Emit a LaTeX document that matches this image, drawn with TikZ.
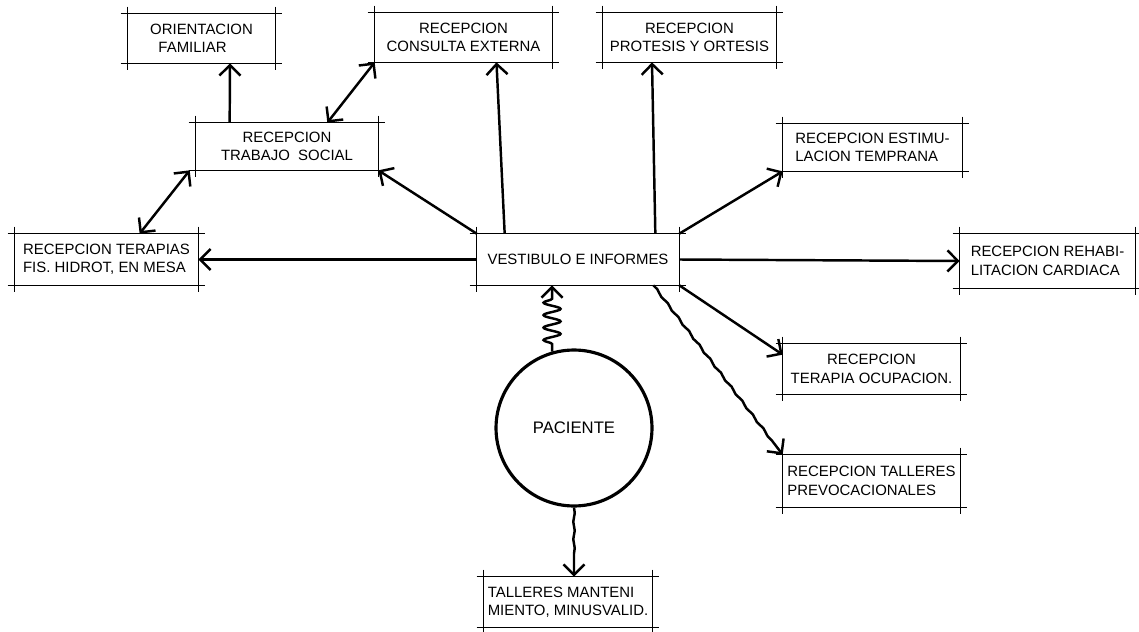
\documentclass[tikz,border=0pt]{standalone}
\usepackage{fontspec}
\setmainfont{Liberation Sans}
\usetikzlibrary{arrows.meta, positioning, decorations.pathmorphing}
\tikzset{%
	area/.style={
		draw=none,
		align=center,
		inner sep=2pt,
		font=\fontsize{8.5}{10.5}\selectfont
	},
	flow/.style={
		line width=1.4pt,
		-{Straight Barb[length=6pt,width=12pt]}
	},
	twoway/.style={
		line width=1.4pt,
		{Straight Barb[length=6pt,width=12pt]}-{Straight Barb[length=6pt,width=12pt]}
	},
	spring/.style={
		decorate,
		decoration={snake, amplitude=0.17cm, segment length=0.25cm, pre length=0.15cm, post length=0.2cm}
	},
	wobble/.style={
		decorate,
		decoration={snake, amplitude=0.015cm, segment length=0.35cm, post length=0.3cm}
	},
}

\begin{document}
\begin{tikzpicture}[x=0.02cm, y=-0.02cm]
			\useasboundingbox (0,0) rectangle (1139,632);
			
			% Upper row
			\node[area, align=left, minimum width=2.94cm, minimum height=0.98cm] (orient) at (201.5,38.5) {ORIENTACION\\ \ \ FAMILIAR};
			\node[area, minimum width=3.54cm, minimum height=0.98cm] (cons) at (463.5,37.5) {RECEPCION\\CONSULTA EXTERNA};
			\node[area, minimum width=3.46cm, minimum height=0.98cm] (prot) at (689.5,37.5) {RECEPCION\\PROTESIS Y ORTESIS};
			
			% Second row
			\node[area, minimum width=3.64cm, minimum height=0.94cm] (trab) at (287,146.5) {RECEPCION\\TRABAJO \ SOCIAL};
			\node[area, align=left, minimum width=3.58cm, minimum height=0.94cm] (estim) at (872.5,147.5) {RECEPCION ESTIMU-\\LACION TEMPRANA};
			
			% Middle row
			\node[area, align=left, minimum width=3.66cm, minimum height=1.02cm] (terap) at (106.5,259.5) {RECEPCION TERAPIAS\\FIS. HIDROT, EN MESA};
			\node[area, minimum width=4.04cm, minimum height=1.02cm] (vest) at (578,259.5) {VESTIBULO E INFORMES};
			\node[area, align=left, minimum width=3.5cm, minimum height=1.08cm] (rehab) at (1047.5,261) {RECEPCION REHABI-\\LITACION CARDIACA};
			
			% Lower part
			\node[area, minimum width=3.54cm, minimum height=1cm] (ocup) at (871.5,369) {RECEPCION\\TERAPIA OCUPACION.};
			\node[area, align=left, minimum width=3.54cm, minimum height=1.04cm] (prevoc) at (871.5,481) {RECEPCION TALLERES\\PREVOCACIONALES};
			\node[area, align=left, minimum width=3.36cm, minimum height=1cm] (mant) at (568,602) {TALLERES MANTENI\\MIENTO, MINUSVALID.};
			\node[circle, draw, line width=1.8pt, minimum size=3.12cm, font=\fontsize{9.5}{11}\selectfont] (pac) at (574,428) {PACIENTE};
			
			% Box outlines with crossing corners
			\foreach \n in {orient, cons, prot, trab, estim, terap, vest, rehab, ocup, prevoc, mant} {
				\draw[line width=0.9pt] ([xshift=-0.14cm]\n.north west) -- ([xshift=0.14cm]\n.north east);
				\draw[line width=0.9pt] ([xshift=-0.14cm]\n.south west) -- ([xshift=0.14cm]\n.south east);
				\draw[line width=0.9pt] ([yshift=0.14cm]\n.north west) -- ([yshift=-0.14cm]\n.south west);
				\draw[line width=0.9pt] ([yshift=0.14cm]\n.north east) -- ([yshift=-0.14cm]\n.south east);
			}
			
			% From the hall
			\draw[flow] (vest.west) -- (terap.east);
			\draw[flow] (vest.east) -- (rehab.west);
			\draw[flow] (vest.north west) -- (trab.south east);
			\draw[flow] ([xshift=0.56cm]vest.north west) -- ([xshift=0.66cm]cons.south);
			\draw[flow] ([xshift=-0.48cm]vest.north east) -- ([xshift=-0.75cm]prot.south);
			\draw[flow] (vest.north east) -- (estim.south west);
			\draw[flow] (vest.south east) -- ([yshift=-0.22cm]ocup.north west);
			\draw[flow, wobble] ([xshift=-0.52cm]vest.south east) -- (prevoc.north west);
			
			% Social work links
			\draw[flow] ([xshift=0.68cm]trab.north west) -- ([xshift=0.57cm]orient.south);
			\draw[twoway] ([xshift=-1.02cm]trab.north east) -- (cons.south west);
			\draw[twoway] ([xshift=-0.12cm]trab.south west) -- ([xshift=2.5cm]terap.north west);
			
			% Patient
			\draw[flow, spring] (pac.106) -- (pac.106 |- vest.south);
			\draw[flow, wobble] (pac.south) -- (pac.south |- mant.north);
			
		\end{tikzpicture}
\end{document}
